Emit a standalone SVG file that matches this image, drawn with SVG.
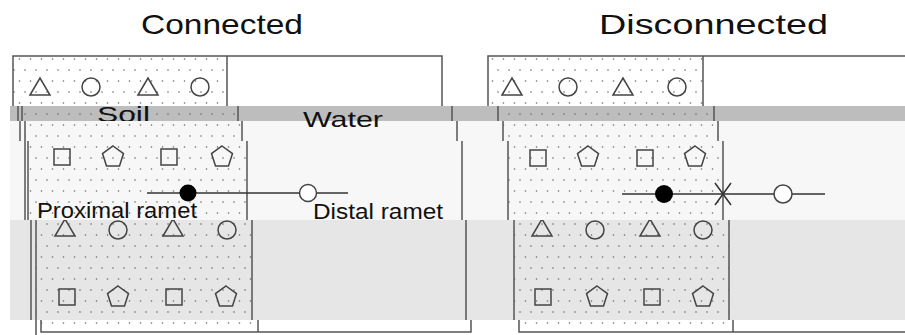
<svg xmlns="http://www.w3.org/2000/svg" width="905" height="335" viewBox="0 0 905 335">
  <style>
    .frame { stroke: #555; stroke-width: 1.5; fill: none; }
    .shape { stroke: #444; stroke-width: 1.5; fill: none; }
    .title { font-family: "Liberation Sans", Arial, sans-serif; font-size: 28px; fill: #111; }
    .label { font-family: "Liberation Sans", Arial, sans-serif; font-size: 22px; fill: #111; }
    .stem { stroke: #333; stroke-width: 1.5; }
  </style>
  <defs>
    <pattern id="dots" patternUnits="userSpaceOnUse" width="11" height="22">
      <circle cx="3" cy="4" r="0.8" fill="#666"/>
      <circle cx="8.5" cy="15" r="0.8" fill="#666"/>
    </pattern>
    <path id="tri" d="M-10,8 L0,-9 L10,8 Z"/>
    <circle id="circ" r="9"/>
    <rect id="sq" x="-8" y="-8" width="16" height="16"/>
    <polygon id="pent" points="0,-11 10.5,-3.4 6.5,8.9 -6.5,8.9 -10.5,-3.4"/>
    <clipPath id="cA"><rect x="0" y="0" width="905" height="106"/></clipPath>
    <clipPath id="cB"><rect x="0" y="106" width="905" height="15"/></clipPath>
    <clipPath id="cC"><rect x="0" y="121" width="905" height="20"/></clipPath>
    <clipPath id="cD"><rect x="0" y="141" width="905" height="79"/></clipPath>
    <clipPath id="cE"><rect x="0" y="220" width="905" height="100"/></clipPath>
    <clipPath id="cF"><rect x="0" y="320" width="905" height="15"/></clipPath>
  </defs>

  <rect width="905" height="335" fill="#fff"/>

  <!-- top strip: titles and upper part of both panels -->
  <g id="strip-top" clip-path="url(#cA)">
    <text class="title" x="141" y="34" textLength="162" lengthAdjust="spacingAndGlyphs">Connected</text>
    <text class="title" x="599" y="34" textLength="229" lengthAdjust="spacingAndGlyphs">Disconnected</text>
    <rect x="13" y="56" width="214" height="60" fill="url(#dots)"/>
    <rect x="488" y="56" width="215" height="60" fill="url(#dots)"/>
    <path class="frame" d="M13,120 V56 H442 V120 M227,56 V120"/>
    <path class="frame" d="M488,120 V56 H910 M703,56 V120"/>
    <g class="shape">
      <use href="#tri" x="40" y="87"/>
      <use href="#circ" x="91" y="87"/>
      <use href="#tri" x="148" y="87"/>
      <use href="#circ" x="200" y="87"/>
      <use href="#tri" x="512" y="87"/>
      <use href="#circ" x="568" y="87"/>
      <use href="#tri" x="623" y="87"/>
      <use href="#circ" x="677" y="87"/>
    </g>
  </g>

  <!-- grey strip behind the Soil / Water labels -->
  <g id="strip-labels" clip-path="url(#cB)">
    <rect x="10" y="106" width="895" height="15" fill="#bdbdbd"/>
    <rect x="22" y="106" width="216" height="15" fill="url(#dots)"/>
    <rect x="498" y="106" width="216" height="15" fill="url(#dots)"/>
    <path class="frame" d="M18,100 V130 M22,100 V130 M238,100 V130 M452,100 V130"/>
    <path class="frame" d="M498,100 V130 M714,100 V130"/>
    <text class="label" x="97" y="122" textLength="53" lengthAdjust="spacingAndGlyphs">Soil</text>
  </g>

  <g id="strip-upper" clip-path="url(#cC)">
    <rect x="10" y="121" width="895" height="20" fill="#f7f7f7"/>
    <rect x="25" y="121" width="217" height="20" fill="url(#dots)"/>
    <rect x="503" y="121" width="215" height="20" fill="url(#dots)"/>
    <path class="frame" d="M20,115 V145 M25,115 V145 M242,115 V145 M457,115 V145"/>
    <path class="frame" d="M503,115 V145 M718,115 V145"/>
  </g>

  <text class="label" x="303" y="127" textLength="80" lengthAdjust="spacingAndGlyphs">Water</text>

  <!-- middle strip: squares, pentagons and the ramet stems -->
  <g id="strip-middle" clip-path="url(#cD)">
    <rect x="10" y="141" width="895" height="79" fill="#f7f7f7"/>
    <rect x="28" y="141" width="219" height="79" fill="url(#dots)"/>
    <rect x="508" y="141" width="215" height="79" fill="url(#dots)"/>
    <path class="frame" d="M25,135 V225 M28,135 V225 M247,135 V225 M462,135 V225"/>
    <path class="frame" d="M508,135 V225 M723,135 V225"/>
    <g class="shape">
      <use href="#sq" x="62" y="157"/>
      <use href="#pent" x="113" y="157"/>
      <use href="#sq" x="169" y="157"/>
      <use href="#pent" x="222" y="157"/>
      <use href="#sq" x="538" y="158"/>
      <use href="#pent" x="588" y="157"/>
      <use href="#sq" x="645" y="158"/>
      <use href="#pent" x="695" y="157"/>
    </g>
    <g id="ramets-connected">
      <line class="stem" x1="147" y1="193" x2="348" y2="193"/>
      <circle cx="188" cy="193" r="8.5" fill="#000"/>
      <circle cx="308" cy="193" r="8.5" fill="#fff" stroke="#444" stroke-width="1.5"/>
    </g>
    <g id="ramets-disconnected">
      <line class="stem" x1="622" y1="194" x2="825" y2="194"/>
      <circle cx="664" cy="194" r="9" fill="#000"/>
      <path class="stem" d="M715,183 L731,205 M731,183 L715,205"/>
      <circle cx="783" cy="194" r="9" fill="#fff" stroke="#444" stroke-width="1.5"/>
    </g>
    <text class="label" x="37" y="218" textLength="160" lengthAdjust="spacingAndGlyphs">Proximal ramet</text>
    <text class="label" x="313" y="219" textLength="130" lengthAdjust="spacingAndGlyphs">Distal ramet</text>
  </g>

  <!-- lower strip: second row of shapes -->
  <g id="strip-lower" clip-path="url(#cE)">
    <rect x="10" y="220" width="895" height="100" fill="#e6e6e6"/>
    <rect x="36" y="220" width="216" height="100" fill="url(#dots)"/>
    <rect x="514" y="220" width="215" height="100" fill="url(#dots)"/>
    <path class="frame" d="M31,215 V325 M36,215 V325 M252,215 V325 M466,215 V325"/>
    <path class="frame" d="M514,215 V325 M729,215 V325"/>
    <g class="shape">
      <use href="#tri" x="65" y="228"/>
      <use href="#circ" x="118" y="230"/>
      <use href="#tri" x="173" y="228"/>
      <use href="#circ" x="227" y="230"/>
      <use href="#tri" x="542" y="228"/>
      <use href="#circ" x="595" y="230"/>
      <use href="#tri" x="650" y="228"/>
      <use href="#circ" x="703" y="230"/>
      <use href="#sq" x="67" y="297"/>
      <use href="#pent" x="118" y="297"/>
      <use href="#sq" x="174" y="297"/>
      <use href="#pent" x="226" y="297"/>
      <use href="#sq" x="543" y="297"/>
      <use href="#pent" x="597" y="297"/>
      <use href="#sq" x="652" y="297"/>
      <use href="#pent" x="703" y="297"/>
    </g>
  </g>

  <!-- bottom strip: lower edges of the panels -->
  <g id="strip-bottom" clip-path="url(#cF)">
    <rect x="41" y="320" width="217" height="12" fill="url(#dots)"/>
    <rect x="519" y="320" width="214" height="12" fill="url(#dots)"/>
    <path class="frame" d="M36,315 V335 M41,315 V332 H471 V315 M258,315 V332"/>
    <path class="frame" d="M519,315 V332 H910 M733,315 V332"/>
  </g>
</svg>
